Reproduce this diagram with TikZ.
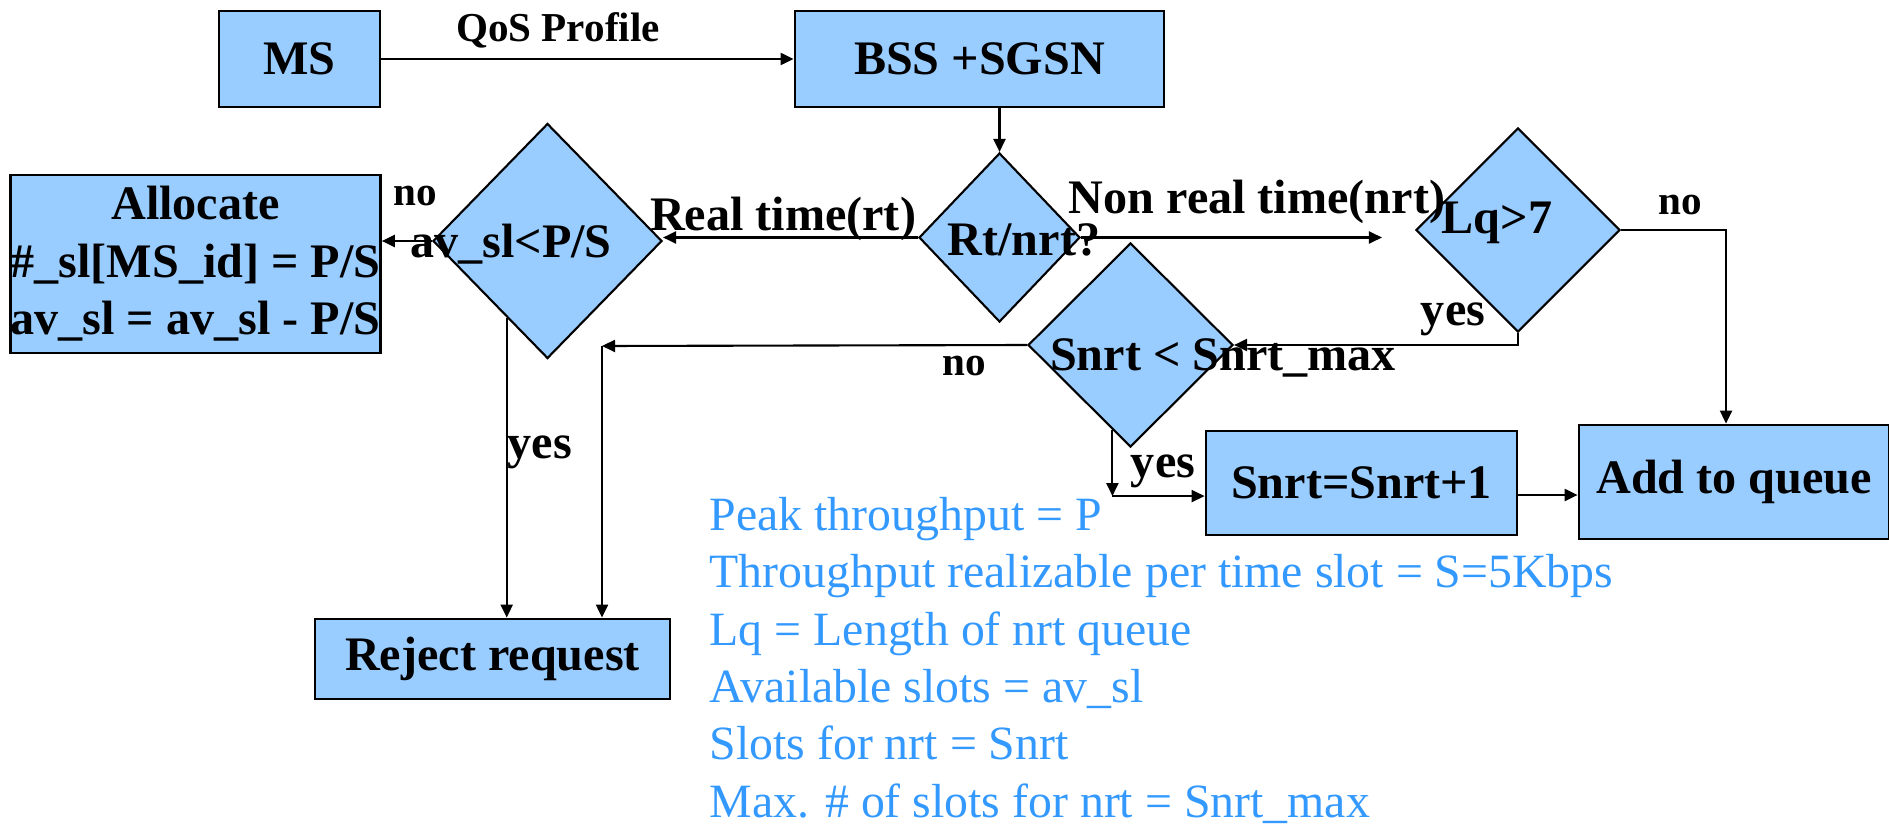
\documentclass[tikz,border=0pt]{standalone}
\usepackage{fontspec}
\setmainfont{Liberation Serif}
\usetikzlibrary{shapes.geometric, arrows.meta}
\definecolor{boxblue}{RGB}{153,204,255}
\definecolor{noteblue}{RGB}{51,153,255}
\begin{document}
\begin{tikzpicture}[
		box/.style={draw, line width=0.8pt, fill=boxblue, inner sep=0pt, align=center, font=\fontsize{13.7}{16.4}\selectfont\bfseries},
		decision/.style={diamond, draw, line width=0.6pt, fill=boxblue, inner sep=0pt},
		bigtext/.style={inner sep=0pt, anchor=base, font=\fontsize{13.7}{16.4}\selectfont\bfseries},
		smalltext/.style={inner sep=0pt, anchor=base, font=\fontsize{11.7}{14}\selectfont\bfseries},
		flow/.style={-{Triangle[length=1.3mm, width=1.2mm]}, line width=0.6pt},
	]
	\useasboundingbox (0, 0) rectangle (18.89, -8.26);

	\node[box, minimum width=1.61cm, minimum height=0.96cm]	(ms)		at (2.995, -0.59)	{MS};
	\node[box, minimum width=3.69cm, minimum height=0.96cm]	(bss)		at (9.795, -0.59)	{BSS +SGSN};
	\node[box, minimum width=3.69cm, minimum height=1.78cm]	(alloc)		at (1.955, -2.64)	{Allocate\\\#\_sl[MS\_id] = P/S\\av\_sl = av\_sl - P/S};
	\node[box, minimum width=3.55cm, minimum height=0.80cm]	(reject)	at (4.925, -6.59)	{Reject request};
	\node[box, minimum width=3.11cm, minimum height=1.04cm]	(inc)		at (13.615, -4.83)	{Snrt=Snrt+1};
	\node[box, minimum width=3.10cm, minimum height=1.14cm]	(queue)		at (17.34, -4.82)	{Add to queue};

	\node[decision, minimum width=2.29cm, minimum height=2.35cm]	(avsl)	at (5.475, -2.41)	{};
	\node[decision, minimum width=1.61cm, minimum height=1.69cm]	(rt)	at (9.995, -2.375)	{};
	\node[decision, minimum width=2.04cm, minimum height=2.04cm]	(lq)	at (15.18, -2.30)	{};
	\node[decision, minimum width=2.05cm, minimum height=2.04cm]	(snrt)	at (11.305, -3.45)	{};

	\draw[flow]	(ms) to (bss);
	\draw[flow]	(rt.north |- bss.south) to (rt.north);
	\draw[flow]	(rt.west) to (rt.west -| avsl.east);
	\draw[flow, shorten >=0.33cm]	(rt.east) to (rt.east -| lq.west);
	\draw[flow]	(lq.east) -| ([xshift=-0.08cm]queue.north);
	\draw[flow]	(lq.south) |- (snrt.east);
	\draw[flow]	(avsl.west) to (avsl.west -| alloc.east);
	\draw[flow]	(avsl.242) to (avsl.242 |- reject.north);

	\coordinate (nocorner) at (6.02, -3.46);
	\draw[flow]	(snrt.west) to (nocorner);
	\draw[flow]	(nocorner) to (nocorner |- reject.north);

	\draw[flow]	(snrt.258) to ++(0, -0.66) coordinate (yescorner);
	\draw[flow]	(yescorner) to (yescorner -| inc.west);
	\draw[flow]	([yshift=-0.12cm]inc.east) to ([yshift=-0.12cm]inc.east -| queue.west);

	\node[smalltext]	(qos)		at (5.58, -0.42)	{QoS Profile};
	\node[bigtext]		(rtlabel)	at (7.83, -2.30)	{Real time(rt)};
	\node[bigtext]		(nrtlabel)	at (12.57, -2.13)	{Non real time(nrt)};
	\node[smalltext]	(noalloc)	at (4.15, -2.05)	{no};
	\node[smalltext]	(noqueue)	at (16.80, -2.15)	{no};
	\node[smalltext]	(noreject)	at (9.64, -3.75)	{no};
	\node[bigtext]		(yesreject)	at (5.40, -4.58)	{yes};
	\node[bigtext]		(yessnrt)	at (14.53, -3.25)	{yes};
	\node[bigtext]		(yesinc)	at (11.63, -4.77)	{yes};

	\node[bigtext]		(avsltext)	at (5.11, -2.57)	{av\_sl<P/S};
	\node[bigtext]		(rttext)	at (10.24, -2.55)	{Rt/nrt?};
	\node[bigtext]		(lqtext)	at (14.97, -2.33)	{Lq>7};
	\node[bigtext]		(snrttext)	at (12.23, -3.70)	{Snrt < Snrt\_max};

	\node[anchor=base west, inner sep=0pt, align=left, text=noteblue, font=\fontsize{13.6}{16.3}\selectfont]	(notes)	at (7.09, -8.17)
		{Peak throughput = P\\Throughput realizable per time slot = S=5Kbps\\Lq = Length of nrt queue\\Available slots = av\_sl\\Slots for nrt = Snrt\\Max. \# of slots for nrt = Snrt\_max};
\end{tikzpicture}
\end{document}
